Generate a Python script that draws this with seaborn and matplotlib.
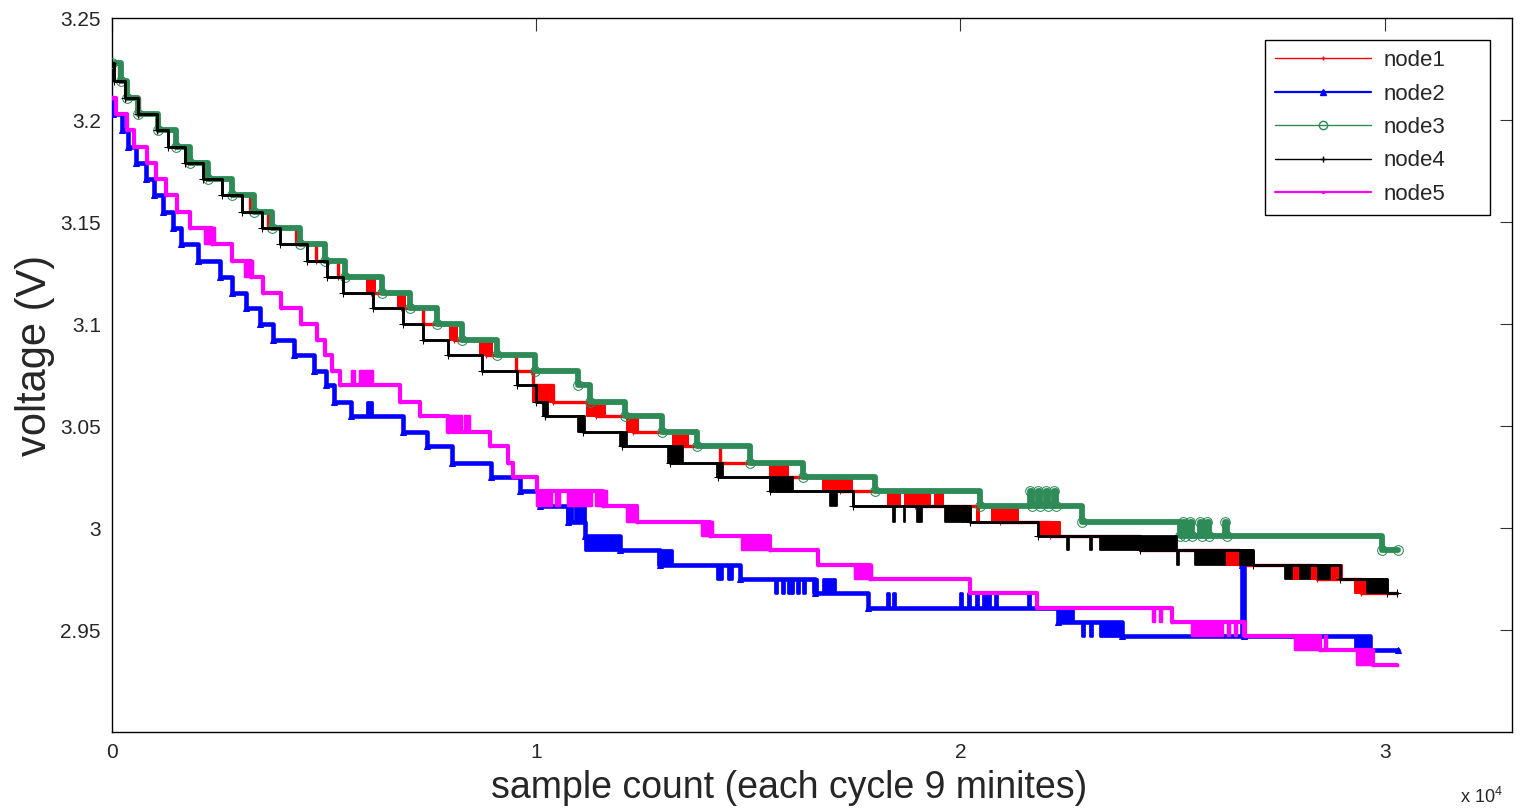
import matplotlib
matplotlib.use("Agg")
import matplotlib.pyplot as plt
from matplotlib.lines import Line2D
import seaborn as sns

# step data: sample count where each reading starts, and the reading (V)
node1_x = [0, 165, 330, 636, 1084, 1485, 1791, 2216, 2805, 3253, 3677, 4337, 4808, 5327, 6105,
           6812, 7330, 8061, 8815, 9522, 9923, 10394, 11408, 12280, 13411, 14331, 15721, 17159,
           18927, 20930, 22109, 24230, 26587, 28402, 29439, 30288]
node1_v = [3.228, 3.219, 3.211, 3.203, 3.195, 3.187, 3.179, 3.171, 3.163, 3.155, 3.147, 3.139,
           3.131, 3.123, 3.115, 3.108, 3.100, 3.092, 3.085, 3.077, 3.070, 3.062, 3.055, 3.047,
           3.040, 3.032, 3.025, 3.018, 3.011, 3.003, 2.996, 2.989, 2.982, 2.975, 2.968, 2.968]

node2_x = [0, 24, 236, 377, 566, 801, 990, 1202, 1438, 1626, 2027, 2546, 2828, 3158, 3488, 3795,
           4290, 4761, 5044, 5233, 5633, 6859, 7425, 8014, 8933, 9617, 10088, 10748, 11149, 11974,
           12916, 14802, 16570, 17819, 22298, 23806, 26634, 26681, 29651, 30311]
node2_v = [3.211, 3.203, 3.195, 3.187, 3.179, 3.171, 3.163, 3.155, 3.147, 3.139, 3.131, 3.123,
           3.115, 3.108, 3.100, 3.092, 3.085, 3.077, 3.070, 3.062, 3.055, 3.047, 3.040, 3.032,
           3.025, 3.018, 3.011, 3.003, 2.996, 2.989, 2.982, 2.975, 2.968, 2.961, 2.954, 2.947,
           2.982, 2.947, 2.940, 2.940]

node3_x = [0, 212, 354, 613, 1084, 1508, 1838, 2263, 2828, 3347, 3771, 4431, 5020, 5492, 6364,
           7024, 7660, 8250, 9074, 9970, 10984, 11266, 12091, 12964, 13788, 15037, 16287, 17984,
           20459, 21637, 21680, 21826, 21870, 22015, 22060, 22203, 22250, 22863, 25173, 25244,
           25290, 25409, 25455, 25644, 25690, 25809, 25855, 26233, 26280, 29934, 30311]
node3_v = [3.228, 3.219, 3.211, 3.203, 3.195, 3.187, 3.179, 3.171, 3.163, 3.155, 3.147, 3.139,
           3.131, 3.123, 3.115, 3.108, 3.100, 3.092, 3.085, 3.077, 3.070, 3.062, 3.055, 3.047,
           3.040, 3.032, 3.025, 3.018, 3.011, 3.018, 3.011, 3.018, 3.011, 3.018, 3.011, 3.018,
           3.011, 3.003, 2.996, 3.003, 2.996, 3.003, 2.996, 3.003, 2.996, 3.003, 2.996, 3.003,
           2.996, 2.989, 2.989]

node4_x = [0, 47, 306, 613, 1061, 1320, 1721, 2145, 2593, 3064, 3536, 3960, 4596, 5068, 5445,
           6152, 6859, 7330, 7920, 8721, 9546, 9994, 10206, 11101, 12021, 13152, 14283, 15509,
           17465, 20223, 21826, 24230, 26894, 28944, 30052, 30288]
node4_v = [3.228, 3.219, 3.211, 3.203, 3.195, 3.187, 3.179, 3.171, 3.163, 3.155, 3.147, 3.139,
           3.131, 3.123, 3.115, 3.108, 3.100, 3.092, 3.085, 3.077, 3.070, 3.062, 3.055, 3.047,
           3.040, 3.032, 3.025, 3.018, 3.011, 3.003, 2.996, 2.989, 2.982, 2.975, 2.968, 2.968]

node5_x = [0, 94, 354, 519, 825, 1037, 1273, 1532, 1838, 2357, 2828, 3276, 3559, 3983, 4455,
           4832, 5020, 5185, 5374, 6788, 7260, 7920, 8909, 9334, 9452, 10017, 11573, 12374, 14095,
           15509, 16640, 17866, 20223, 21802, 24984, 26705, 28473, 29722, 30288]
node5_v = [3.211, 3.203, 3.195, 3.187, 3.179, 3.171, 3.163, 3.155, 3.147, 3.139, 3.131, 3.123,
           3.115, 3.108, 3.100, 3.092, 3.085, 3.077, 3.070, 3.062, 3.055, 3.047, 3.040, 3.032,
           3.025, 3.018, 3.011, 3.003, 2.996, 2.989, 2.982, 2.975, 2.968, 2.961, 2.954, 2.947,
           2.940, 2.933, 2.933]

# flicker bursts: start, end, upper reading, lower reading
node1_bursts = [(6010, 6199, 3.123, 3.115), (6741, 6906, 3.115, 3.108), (7967, 8132, 3.100, 3.092),
                (8674, 8957, 3.092, 3.085), (9923, 10394, 3.070, 3.062), (11196, 11620, 3.062, 3.055),
                (12139, 12398, 3.055, 3.047), (13223, 13576, 3.047, 3.040), (15509, 15933, 3.032, 3.025),
                (16758, 17442, 3.025, 3.018), (18290, 18573, 3.018, 3.011), (18691, 18927, 3.018, 3.011),
                (18997, 19280, 3.018, 3.011), (19398, 19587, 3.018, 3.011), (20058, 20105, 3.011, 3.003),
                (20388, 20435, 3.011, 3.003), (20742, 21354, 3.011, 3.003), (21873, 22344, 3.003, 2.996),
                (26233, 26587, 2.989, 2.982), (27813, 28002, 2.982, 2.975), (28237, 28426, 2.982, 2.975),
                (28709, 28991, 2.982, 2.975), (29298, 29580, 2.975, 2.968)]
node2_bursts = [(6010, 6128, 3.062, 3.055), (10041, 10159, 3.018, 3.011), (10724, 10842, 3.011, 3.003),
                (10913, 11149, 3.011, 3.003), (11149, 11974, 2.996, 2.989), (12869, 13199, 2.989, 2.982),
                (14260, 14378, 2.982, 2.975), (14519, 14613, 2.982, 2.975), (15627, 15674, 2.975, 2.968),
                (15792, 15839, 2.975, 2.968), (15933, 16051, 2.975, 2.968), (16145, 16193, 2.975, 2.968),
                (16287, 16334, 2.975, 2.968), (16523, 16617, 2.975, 2.968), (16758, 17041, 2.975, 2.968),
                (18267, 18314, 2.968, 2.961), (18408, 18455, 2.968, 2.961), (19987, 20035, 2.968, 2.961),
                (20176, 20223, 2.968, 2.961), (20365, 20412, 2.968, 2.961), (20530, 20694, 2.968, 2.961),
                (20812, 20859, 2.968, 2.961), (21590, 21637, 2.968, 2.961), (22297, 22651, 2.961, 2.954),
                (22863, 22910, 2.954, 2.947), (23051, 23099, 2.954, 2.947), (23287, 23806, 2.954, 2.947),
                (29298, 29651, 2.947, 2.940)]
node3_bursts = []
node4_bursts = [(10159, 10277, 3.062, 3.055), (10984, 11149, 3.055, 3.047), (11974, 12139, 3.047, 3.040),
                (13105, 13458, 3.040, 3.032), (14260, 14401, 3.032, 3.025), (15509, 16051, 3.025, 3.018),
                (16923, 17088, 3.018, 3.011), (18408, 18455, 3.011, 3.003), (18664, 18691, 3.011, 3.003),
                (18974, 19092, 3.011, 3.003), (19634, 20223, 3.011, 3.003), (22508, 22556, 2.996, 2.989),
                (23051, 23099, 2.996, 2.989), (23287, 25102, 2.996, 2.989), (25102, 25149, 2.989, 2.982),
                (25526, 26233, 2.989, 2.982), (26587, 26893, 2.989, 2.982), (27648, 27813, 2.982, 2.975),
                (28002, 28237, 2.982, 2.975), (28426, 28709, 2.982, 2.975), (29580, 30052, 2.975, 2.968)]
node5_bursts = [(2192, 2428, 3.147, 3.139), (3135, 3323, 3.131, 3.123), (5657, 5728, 3.077, 3.070),
                (5845, 6152, 3.077, 3.070), (7896, 8250, 3.055, 3.047), (8320, 8367, 3.055, 3.047),
                (8391, 8438, 3.055, 3.047), (10017, 10371, 3.018, 3.011), (10465, 10559, 3.018, 3.011),
                (10748, 11314, 3.018, 3.011), (11408, 11667, 3.018, 3.011), (12139, 12374, 3.011, 3.003),
                (13906, 14166, 3.003, 2.996), (14849, 15509, 2.996, 2.989), (17513, 17913, 2.982, 2.975),
                (24536, 24583, 2.961, 2.954), (24702, 24749, 2.961, 2.954), (25456, 26186, 2.954, 2.947),
                (26304, 26351, 2.954, 2.947), (26469, 26516, 2.954, 2.947), (26658, 26705, 2.954, 2.947),
                (27884, 28473, 2.947, 2.940), (28590, 28637, 2.947, 2.940), (29345, 29722, 2.940, 2.933)]

node_names = ["node1", "node2", "node3", "node4", "node5"]
x_ticks = [0, 10000, 20000, 30000]
x_ticklabels = ["0", "1", "2", "3"]
y_ticks = [2.95, 3.0, 3.05, 3.1, 3.15, 3.2, 3.25]
y_ticklabels = ["2.95", "3", "3.05", "3.1", "3.15", "3.2", "3.25"]

sns.set_style("white")
plt.rcParams["font.family"] = ["Liberation Sans", "DejaVu Sans"]
plt.rcParams["mathtext.fontset"] = "custom"
plt.rcParams["mathtext.rm"] = "Liberation Sans"

fig = plt.figure(figsize=(15.22, 8.09), dpi=100)
ax = fig.add_axes([112 / 1522, 1 - 732 / 809, 1400 / 1522, 714 / 809])

styles = [
    dict(color="#ff0000", lw=2.4, marker="+", ms=4, mfc="#ff0000"),
    dict(color="#0000ff", lw=3.3, marker="^", ms=5, mfc="#0000ff"),
    dict(color="#2e8b57", lw=4.2, marker="o", ms=7, mfc="none"),
    dict(color="#000000", lw=2.1, marker="+", ms=6, mfc="#000000"),
    dict(color="#ff00ff", lw=3.0, marker=".", ms=4, mfc="#ff00ff"),
]
data = [(node1_x, node1_v, node1_bursts), (node2_x, node2_v, node2_bursts),
        (node3_x, node3_v, node3_bursts), (node4_x, node4_v, node4_bursts),
        (node5_x, node5_v, node5_bursts)]

for i, ((xs, vs, bursts), st) in enumerate(zip(data, styles)):
    z = 2 + i
    sns.lineplot(x=xs, y=vs, ax=ax, drawstyle="steps-post", estimator=None, sort=False,
                 color=st["color"], linewidth=st["lw"], marker=st["marker"],
                 markersize=st["ms"], markerfacecolor=st["mfc"], markeredgecolor=st["color"],
                 zorder=z, legend=False)
    for x0, x1, hi, lo in bursts:
        ax.fill_between([x0, x1], [lo, lo], [hi, hi], color=st["color"],
                        edgecolor=st["color"], linewidth=st["lw"] * 0.6, zorder=z)

ax.set_xlim(0, 33000)
ax.set_ylim(2.9, 3.25)
ax.set_xticks(x_ticks)
ax.set_xticklabels(x_ticklabels)
ax.set_yticks(y_ticks)
ax.set_yticklabels(y_ticklabels)
ax.tick_params(direction="in", length=9, width=0.8, top=True, right=True,
               labelsize=15, pad=8, color="#333333")
for sp in ax.spines.values():
    sp.set_color("black")
    sp.set_linewidth(1.0)

ax.set_xlabel("sample count (each cycle 9 minites)", fontsize=27)
ax.xaxis.label.set_va("center")
ax.xaxis.set_label_coords(0.4836, -0.078)
ax.set_ylabel("voltage (V)", fontsize=30)
ax.yaxis.label.set_va("center")
ax.yaxis.set_label_coords(-0.055, 0.527)
fig.text(1460 / 1522, 1 - 797 / 809, r"x 10$^{4}$", fontsize=13, va="center")

handles = []
for st in styles:
    handles.append(Line2D([], [], color=st["color"], lw=1.0 if st["marker"] in ("+", "o") else 1.6,
                          marker=st["marker"], markersize=st["ms"] - 1,
                          markerfacecolor=st["mfc"], markeredgecolor=st["color"]))
leg = ax.legend(handles, node_names, loc="upper left",
                bbox_to_anchor=(0.8236, 0.728, 0.1604, 0.241), mode="expand",
                fontsize=16, frameon=True, fancybox=False, edgecolor="black", framealpha=1,
                handlelength=4.3, handletextpad=0.6, labelspacing=0.56, borderpad=0.45,
                borderaxespad=0)
leg.get_frame().set_linewidth(1.0)
leg.set_zorder(20)

fig.savefig("out.png", dpi=100)
